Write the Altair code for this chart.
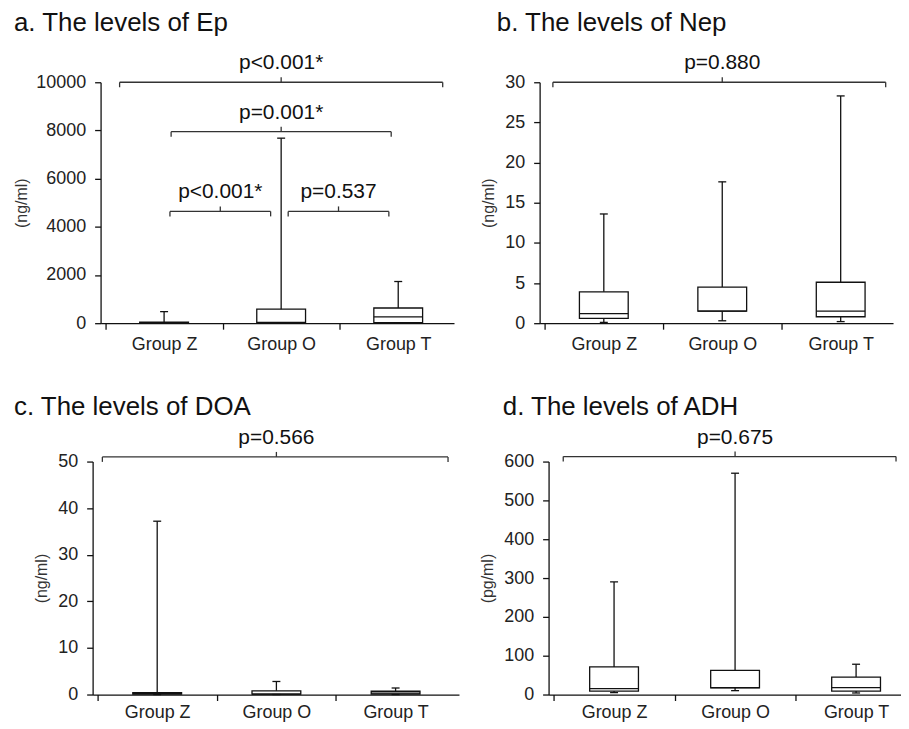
import altair as alt
import pandas as pd

FONT = "Liberation Sans"
INK = "#111111"

groups = ["Group Z", "Group O", "Group T"]

# a. Ep (ng/ml)
ep_min = [0, 0, 0]
ep_q1 = [5, 10, 20]
ep_med = [15, 30, 260]
ep_q3 = [40, 580, 630]
ep_max = [480, 7680, 1730]
ep_br_x1 = [0.12, 0.56, 0.55, 1.56]
ep_br_x2 = [2.88, 2.44, 1.41, 2.42]
ep_br_xm = [1.5, 1.5, 0.98, 1.99]
ep_br_y = [10000, 7950, 4640, 4640]
ep_br_p = ["p<0.001*", "p=0.001*", "p<0.001*", "p=0.537"]

# b. Nep (ng/ml)
nep_min = [0.1, 0.3, 0.2]
nep_q1 = [0.6, 1.5, 0.8]
nep_med = [1.2, 1.5, 1.5]
nep_q3 = [3.9, 4.5, 5.1]
nep_max = [13.6, 17.6, 28.3]
nep_br_x1 = [0.07]
nep_br_x2 = [2.88]
nep_br_xm = [1.5]
nep_br_y = [30]
nep_br_p = ["p=0.880"]

# c. DOA (ng/ml)
doa_min = [0, 0, 0]
doa_q1 = [0.1, 0.1, 0.1]
doa_med = [0.2, 0.1, 0.3]
doa_q3 = [0.4, 0.8, 0.7]
doa_max = [37.2, 2.8, 1.4]
doa_br_x1 = [0.04]
doa_br_x2 = [2.94]
doa_br_xm = [1.5]
doa_br_y = [51]
doa_br_p = ["p=0.566"]

# d. ADH (pg/ml)
adh_min = [5, 10, 4]
adh_q1 = [9, 17, 9]
adh_med = [15, 18, 18]
adh_q3 = [71, 62, 45]
adh_max = [290, 570, 78]
adh_br_x1 = [0.08]
adh_br_x2 = [2.83]
adh_br_xm = [1.5]
adh_br_y = [613]
adh_br_p = ["p=0.675"]


def panel(title, unit, mins, q1s, meds, q3s, maxs, ymax, ystep,
          bx1, bx2, bxm, by, bp, width, height, xmax, title_dx,
          title_offset, ytitle_pad, xlabel_pad, left_shift=0):
    pos = [i + 0.5 for i in range(len(groups))]
    df = pd.DataFrame({"group": groups, "pos": pos, "lo": mins, "q1": q1s,
                       "med": meds, "q3": q3s, "hi": maxs})
    br = pd.DataFrame({"x1": bx1, "x2": bx2, "xm": bxm, "y": by, "p": bp})

    label_expr = "".join(f"datum.value == {p} ? '{g}' : " for p, g in zip(pos, groups)) + "''"
    xvals = sorted(set([float(i) for i in range(len(groups))] + pos))
    if left_shift:
        xscale = alt.Scale(domain=[0, xmax], nice=False, zero=False, range=[-left_shift, width])
    else:
        xscale = alt.Scale(domain=[0, xmax], nice=False, zero=False)
    yscale = alt.Scale(domain=[0, ymax], nice=False, zero=False)
    xaxis = alt.Axis(values=xvals, labelExpr=label_expr, title=None, grid=False,
                     domainColor=INK, domainWidth=1.3, tickColor=INK, tickWidth=1.3,
                     tickSize=6,
                     tickOpacity={"condition": {"test": "datum.value % 1 == 0", "value": 1}, "value": 0},
                     labelFont=FONT, labelFontSize=18, labelColor="#222222",
                     labelPadding=xlabel_pad,
                     labelFlush=False, labelOverlap=False, labelBound=False)
    yaxis = alt.Axis(values=list(range(0, ymax + ystep, ystep)), format="d", title=unit,
                     grid=False, domainColor=INK, domainWidth=1.3, tickColor=INK,
                     tickWidth=1.3, tickSize=6, labelFont=FONT, labelFontSize=18,
                     labelColor="#222222", labelPadding=9, titleFont=FONT,
                     titleFontSize=16, titleFontWeight="normal", titleColor="#333333",
                     titlePadding=ytitle_pad, labelOverlap=False, offset=left_shift)

    def X(f):
        return alt.X(f, type="quantitative", scale=xscale, axis=xaxis)

    def Y(f):
        return alt.Y(f, type="quantitative", scale=yscale, axis=yaxis)

    base = alt.Chart(df)
    whisk = base.mark_rule(color=INK, strokeWidth=1.3).encode(x=X("pos"), y=Y("lo"), y2="hi")
    box = base.mark_bar(size=49, fill="white", stroke=INK, strokeWidth=1.3,
                        orient="vertical").encode(x=X("pos"), y=Y("q1"), y2="q3")
    med = base.mark_tick(orient="horizontal", size=49, thickness=1.3, color=INK,
                         opacity=1).encode(x=X("pos"), y=Y("med"))
    cap_hi = base.mark_tick(orient="horizontal", size=8, thickness=1.3, color=INK,
                            opacity=1).encode(x=X("pos"), y=Y("hi"))
    cap_lo = base.mark_tick(orient="horizontal", size=8, thickness=1.3, color=INK,
                            opacity=1).encode(x=X("pos"), y=Y("lo"))

    bbase = alt.Chart(br)
    bline = bbase.mark_rule(color="#333333", strokeWidth=1.3).encode(x=X("x1"), x2="x2", y=Y("y"))
    bend1 = bbase.mark_tick(orient="vertical", size=5, thickness=1.3, color="#333333",
                            opacity=1, yOffset=2.5).encode(x=X("x1"), y=Y("y"))
    bend2 = bbase.mark_tick(orient="vertical", size=5, thickness=1.3, color="#333333",
                            opacity=1, yOffset=2.5).encode(x=X("x2"), y=Y("y"))
    bmid = bbase.mark_tick(orient="vertical", size=5, thickness=1.3, color="#333333",
                           opacity=1, yOffset=-2.5).encode(x=X("xm"), y=Y("y"))
    btxt = bbase.mark_text(dy=-13, baseline="alphabetic", align="center", font=FONT,
                           fontSize=21, color=INK).encode(x=X("xm"), y=Y("y"), text="p:N")

    return alt.layer(whisk, box, med, cap_hi, cap_lo, bline, bend1, bend2, bmid, btxt).properties(
        width=width, height=height,
        title=alt.TitleParams(title, anchor="start", frame="group", dx=title_dx,
                              font=FONT, fontSize=26, fontWeight="normal", color=INK,
                              offset=title_offset),
    )


pa = panel("a. The levels of Ep", "(ng/ml)", ep_min, ep_q1, ep_med, ep_q3, ep_max,
           10000, 2000, ep_br_x1, ep_br_x2, ep_br_xm, ep_br_y, ep_br_p,
           355, 242, 2.934, -87, 17, 6, 6)
pb = panel("b. The levels of Nep", "(ng/ml)", nep_min, nep_q1, nep_med, nep_q3, nep_max,
           30, 5, nep_br_x1, nep_br_x2, nep_br_xm, nep_br_y, nep_br_p,
           355, 242, 2.90, -43, 17, 8, 6)
pc = panel("c. The levels of DOA", "(ng/ml)", doa_min, doa_q1, doa_med, doa_q3, doa_max,
           50, 10, doa_br_x1, doa_br_x2, doa_br_xm, doa_br_y, doa_br_p,
           360, 234, 2.99, -87, 7, 8, 3, left_shift=8)
pd_ = panel("d. The levels of ADH", "(pg/ml)", adh_min, adh_q1, adh_med, adh_q3, adh_max,
            600, 100, adh_br_x1, adh_br_x2, adh_br_xm, adh_br_y, adh_br_p,
            354, 234, 2.83, -46, 7, 8, 3)

row1 = alt.hconcat(pa, pb, spacing=26)
row2 = alt.hconcat(pc, pd_, spacing=12)
chart = alt.vconcat(row1, row2, spacing=40).properties(
    padding={"left": 5, "top": 0, "right": 0, "bottom": 0}
).configure(font=FONT, background="white").configure_view(stroke="transparent", strokeWidth=0)

chart.save("out.html", embed_options={"renderer": "svg", "actions": False})
